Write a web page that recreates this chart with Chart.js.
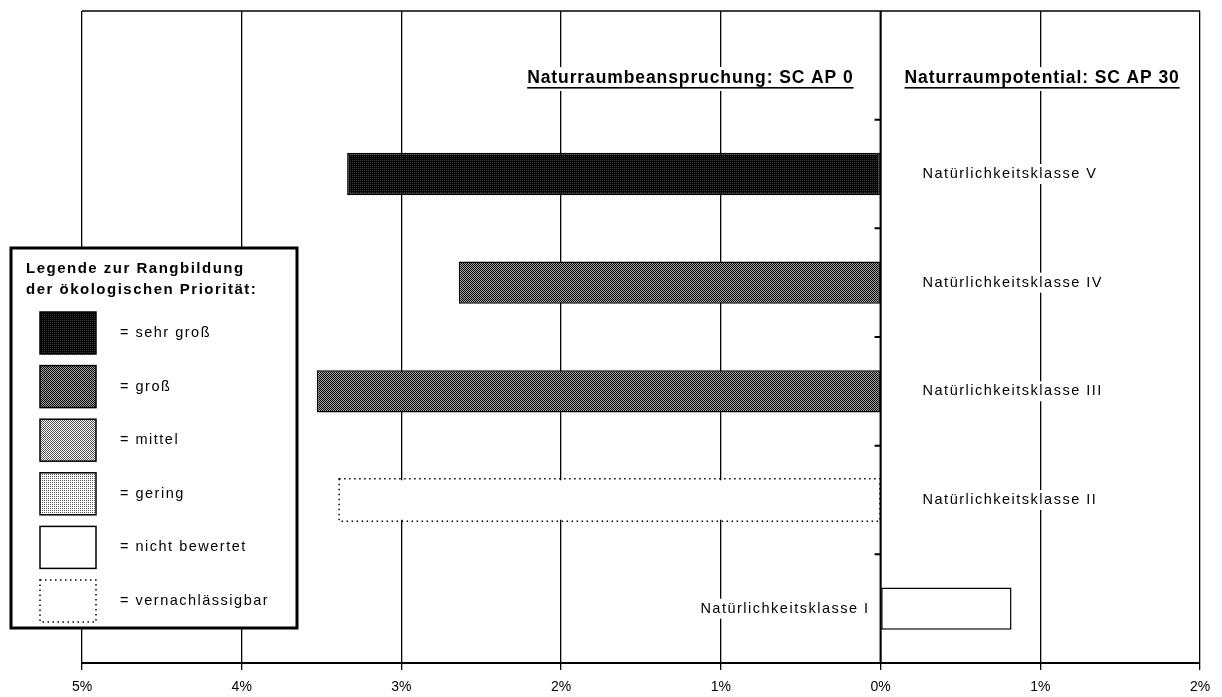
<!DOCTYPE html>
<html>
<head>
<meta charset="utf-8">
<script src="https://cdn.jsdelivr.net/npm/chart.js@4"></script>
<style>
  html, body { margin: 0; background: #fff; }
</style>
</head>
<body>
<canvas id="chart" width="1222" height="697"></canvas>
<script>
const classes = ['Natürlichkeitsklasse V', 'Natürlichkeitsklasse IV', 'Natürlichkeitsklasse III', 'Natürlichkeitsklasse II', 'Natürlichkeitsklasse I'];
const shares = [-3.34, -2.64, -3.53, -3.39, 0.82];
const ranks = ['sehr groß', 'groß', 'groß', 'vernachlässigbar', 'nicht bewertet'];
const rankNames = ['sehr groß', 'groß', 'mittel', 'gering', 'nicht bewertet', 'vernachlässigbar'];
const xTicks = [-5, -4, -3, -2, -1, 0, 1, 2];
const leftTitle = 'Naturraumbeanspruchung: SC AP 0';
const rightTitle = 'Naturraumpotential: SC AP 30';
const legendTitle = ['Legende zur Rangbildung', 'der ökologischen Priorität:'];

const FONT = '"Liberation Sans", Arial, sans-serif';

// small bitmap tiles to imitate the printed raster fills
function makePattern(base, dot, test) {
  const c = document.createElement('canvas');
  c.width = 4;
  c.height = 4;
  const g = c.getContext('2d');
  g.fillStyle = base;
  g.fillRect(0, 0, 4, 4);
  g.fillStyle = dot;
  for (let py = 0; py < 4; py++) {
    for (let px = 0; px < 4; px++) {
      if (test(px, py)) g.fillRect(px, py, 1, 1);
    }
  }
  return g.createPattern(c, 'repeat');
}

const fills = {
  'sehr groß': makePattern('#000', '#3c3c3c', (px, py) => px % 2 === 0 && py % 2 === 0),
  'groß': makePattern('#a4a4a4', '#000', (px, py) => (px + py) % 2 === 0),
  'mittel': makePattern('#fff', '#555', (px, py) => (px + py) % 2 === 0),
  'gering': makePattern('#fff', '#555', (px, py) => px % 2 === 0 && py % 2 === 0),
  'nicht bewertet': '#fff',
  'vernachlässigbar': '#fff'
};

function dottedRect(ctx, x, y, w, h) {
  ctx.save();
  ctx.strokeStyle = '#000';
  ctx.lineWidth = 1.5;
  ctx.setLineDash([1.5, 3.5]);
  ctx.strokeRect(x, y, w, h);
  ctx.restore();
}

function label(ctx, text, x, y, align, font, spacing) {
  ctx.font = font;
  ctx.letterSpacing = spacing;
  ctx.textAlign = align;
  ctx.textBaseline = 'middle';
  const w = ctx.measureText(text).width;
  const left = align === 'right' ? x - w : x;
  ctx.fillStyle = '#fff';
  ctx.fillRect(left - 4, y - 10, w + 8, 20);
  ctx.fillStyle = '#000';
  ctx.fillText(text, x, y);
}

function title(ctx, text, x, base, align) {
  ctx.font = 'bold 17.5px ' + FONT;
  ctx.letterSpacing = '0.9px';
  ctx.textAlign = align;
  ctx.textBaseline = 'alphabetic';
  const w = ctx.measureText(text).width;
  const left = align === 'right' ? x - w : x;
  ctx.fillStyle = '#fff';
  ctx.fillRect(left - 4, base - 16, w + 8, 24);
  ctx.fillStyle = '#000';
  ctx.fillText(text, x, base);
  ctx.fillRect(left, base + 4, w, 1.6);
}

const decor = {
  id: 'decor',
  afterDatasetsDraw(chart) {
    const { ctx, chartArea: a, scales: { x, y } } = chart;
    const x0 = x.getPixelForValue(0);
    ctx.save();

    // bars with dotted outline
    chart.getDatasetMeta(0).data.forEach((bar, i) => {
      if (i === 0 || ranks[i - 1] !== 'vernachlässigbar') return;
      const p = bar.getProps(['x', 'y', 'base', 'height'], true);
      dottedRect(ctx, Math.min(p.x, p.base), p.y - p.height / 2, Math.abs(p.x - p.base), p.height);
    });

    // top frame line
    ctx.strokeStyle = '#000';
    ctx.lineWidth = 1.5;
    ctx.beginPath();
    ctx.moveTo(a.left, a.top);
    ctx.lineTo(a.right, a.top);
    ctx.stroke();

    // zero axis with category ticks
    ctx.lineWidth = 2;
    ctx.beginPath();
    ctx.moveTo(x0, a.top);
    ctx.lineTo(x0, a.bottom);
    for (let i = 0; i < classes.length; i++) {
      const yy = (y.getPixelForTick(i) + y.getPixelForTick(i + 1)) / 2;
      ctx.moveTo(x0 - 6, yy);
      ctx.lineTo(x0, yy);
    }
    ctx.stroke();

    // category names on the free side of the bar
    classes.forEach((name, i) => {
      const cy = y.getPixelForTick(i + 1);
      if (shares[i] < 0) {
        label(ctx, name, x0 + 42, cy, 'left', '14.5px ' + FONT, '1.5px');
      } else {
        label(ctx, name, x0 - 11, cy, 'right', '14.5px ' + FONT, '1.5px');
      }
    });

    title(ctx, leftTitle, x0 - 27, 83, 'right');
    title(ctx, rightTitle, x0 + 24, 83, 'left');

    // legend box
    ctx.fillStyle = '#fff';
    ctx.fillRect(11, 248, 286, 380);
    ctx.lineWidth = 3;
    ctx.strokeStyle = '#000';
    ctx.strokeRect(11, 248, 286, 380);
    ctx.fillStyle = '#000';
    ctx.font = 'bold 15px ' + FONT;
    ctx.letterSpacing = '1.5px';
    ctx.textAlign = 'left';
    ctx.textBaseline = 'alphabetic';
    ctx.fillText(legendTitle[0], 26, 273);
    ctx.fillText(legendTitle[1], 26, 294);

    rankNames.forEach((name, i) => {
      const top = 312 + i * 53.6;
      if (name === 'vernachlässigbar') {
        dottedRect(ctx, 40, top, 56, 42);
      } else {
        ctx.fillStyle = fills[name];
        ctx.fillRect(40, top, 56, 42);
        ctx.lineWidth = 1.5;
        ctx.strokeStyle = '#000';
        ctx.strokeRect(40, top, 56, 42);
      }
      ctx.fillStyle = '#000';
      ctx.font = '14.5px ' + FONT;
      ctx.letterSpacing = '1.5px';
      ctx.textBaseline = 'middle';
      ctx.fillText('= ' + name, 120, top + 21);
    });

    ctx.restore();
  }
};

new Chart(document.getElementById('chart'), {
  type: 'bar',
  data: {
    labels: [''].concat(classes),
    datasets: [
      {
        data: [null].concat(shares),
        backgroundColor: ['#fff'].concat(ranks.map((r) => fills[r])),
        borderColor: ['#000'].concat(ranks.map((r) => (r === 'vernachlässigbar' ? 'rgba(0,0,0,0)' : '#000'))),
        borderWidth: 1.5,
        borderSkipped: false,
        barPercentage: 0.39,
        categoryPercentage: 1
      }
    ]
  },
  options: {
    indexAxis: 'y',
    responsive: false,
    animation: false,
    devicePixelRatio: 1,
    layout: { padding: { left: 82, right: 22, top: 11, bottom: 0 } },
    plugins: { legend: { display: false }, tooltip: { enabled: false } },
    scales: {
      x: {
        type: 'linear',
        min: -5,
        max: 2,
        afterBuildTicks: (scale) => {
          scale.ticks = xTicks.map((v) => ({ value: v }));
        },
        afterFit: (scale) => {
          scale.height = 34;
        },
        ticks: {
          color: '#000',
          padding: 9,
          font: { family: FONT, size: 14 },
          callback: (v) => Math.abs(v) + '%'
        },
        grid: { color: '#000', lineWidth: 1.3, tickLength: 7 },
        border: { color: '#000', width: 2 }
      },
      y: { display: false }
    }
  },
  plugins: [decor]
});
</script>
</body>
</html>
